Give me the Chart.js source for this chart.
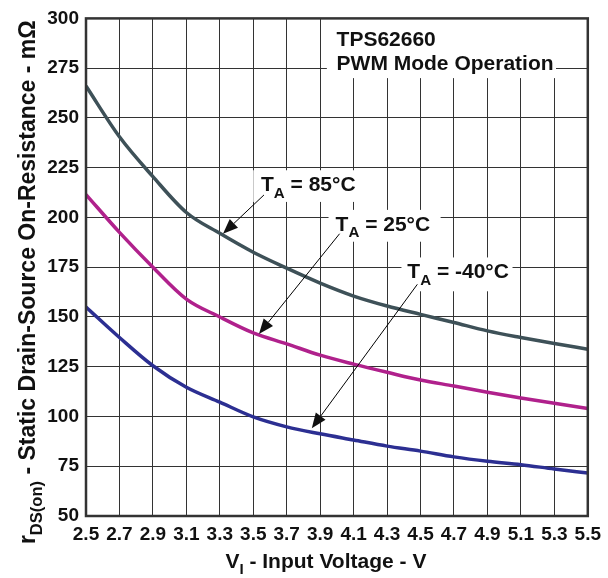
<!DOCTYPE html>
<html><head><meta charset="utf-8">
<script src="https://cdn.jsdelivr.net/npm/chart.js@4/dist/chart.umd.min.js"></script>
<style>html,body{margin:0;padding:0;background:#fff}#wrap{width:608px;height:578px}</style>
</head><body><div id="wrap"><canvas id="c" width="608" height="578"></canvas></div>
<script>
// ---- data ----
const voltages = [2.5, 2.7, 2.9, 3.1, 3.3, 3.5, 3.7, 3.9, 4.1, 4.3, 4.5, 4.7, 4.9, 5.1, 5.3, 5.5];
const xTicks = [2.5, 2.7, 2.9, 3.1, 3.3, 3.5, 3.7, 3.9, 4.1, 4.3, 4.5, 4.7, 4.9, 5.1, 5.3, 5.5];
const yTicks = [50, 75, 100, 125, 150, 175, 200, 225, 250, 275, 300];
const r85 = [266, 240.5, 220.5, 202.5, 192, 182.5, 174.5, 167, 160.5, 155.5, 151.3, 147.2, 143, 139.7, 136.7, 133.8];
const r25 = [211.5, 192.5, 175, 159, 150, 142, 136.5, 130.8, 126.3, 122.2, 118.3, 115.3, 112.2, 109.3, 106.6, 104];
const rM40 = [155, 139.7, 125.5, 114.7, 107.2, 99.8, 94.8, 91.3, 88.2, 85.1, 82.6, 79.7, 77.5, 75.8, 73.6, 71.6];
const seriesTemps = ['85°C', '25°C', '-40°C'];
const noteLines = ['TPS62660', 'PWM Mode Operation'];

// ---- styling / annotation placement (data units) ----
const FONT = '"Liberation Sans", Arial, Helvetica, sans-serif';
const colors = ['#3e5158', '#b0218c', '#2c2f92'];
const labelCfg = [
  {text: [['T',0],['A',1],[' = ' + seriesTemps[0],0]], at:[3.546, 213.1], box:[3.50, 4.16, 223.7, 207.8], arrow:[[3.564, 211.3],[3.319, 191.8]]},
  {text: [['T',0],['A',1],[' = ' + seriesTemps[1],0]], at:[3.992, 193.3], box:[3.95, 4.62, 203.8, 187.8], arrow:[[4.016, 191.8],[3.534, 141.5]]},
  {text: [['T',0],['A',1],[' = ' + seriesTemps[2],0]], at:[4.421, 169.4], box:[4.386, 5.05, 179.9, 162.9], arrow:[[4.481, 166.4],[3.85, 94.1]]}
];
const noteCfg = {at:[3.998, 286, 274.1], box:[3.94, 5.31, 300, 270]};

function richDraw(ctx, parts, x, y, size, align) {
  let w = 0;
  parts.forEach(([t, sub]) => { ctx.font = `bold ${sub ? size*0.72 : size}px ${FONT}`; w += ctx.measureText(t).width; });
  let cx = align === 'center' ? x - w/2 : x;
  ctx.textAlign = 'left'; ctx.textBaseline = 'alphabetic';
  parts.forEach(([t, sub]) => {
    ctx.font = `bold ${sub ? size*0.72 : size}px ${FONT}`;
    ctx.fillText(t, cx, y + (sub ? size*0.3 : 0));
    cx += ctx.measureText(t).width;
  });
}

function arrow(ctx, x1, y1, x2, y2) {
  const ang = Math.atan2(y2 - y1, x2 - x1), L = 15, H = 6;
  const bx = x2 - L*Math.cos(ang), by = y2 - L*Math.sin(ang);
  ctx.strokeStyle = '#000'; ctx.lineWidth = 1;
  ctx.beginPath(); ctx.moveTo(x1, y1); ctx.lineTo(bx, by); ctx.stroke();
  ctx.fillStyle = '#111';
  ctx.beginPath();
  ctx.moveTo(x2, y2);
  ctx.lineTo(bx + H*Math.sin(ang), by - H*Math.cos(ang));
  ctx.lineTo(bx - H*Math.sin(ang), by + H*Math.cos(ang));
  ctx.closePath(); ctx.fill();
}

const decor = {
  id: 'decor',
  beforeDatasetsDraw(chart) {
    const {ctx, scales: {x, y}} = chart;
    ctx.save(); ctx.fillStyle = '#fff';
    const boxes = labelCfg.map(l => l.box).concat([noteCfg.box]);
    boxes.forEach(b => {
      const x0 = x.getPixelForValue(b[0]), x1 = x.getPixelForValue(b[1]);
      const y0 = y.getPixelForValue(b[2]), y1 = y.getPixelForValue(b[3]);
      ctx.fillRect(x0, y0, x1 - x0, y1 - y0);
    });
    ctx.restore();
  },
  afterDatasetsDraw(chart) {
    const {ctx, chartArea: a, scales: {x, y}} = chart;
    ctx.save();
    ctx.fillStyle = '#111';
    labelCfg.forEach(l => {
      richDraw(ctx, l.text, x.getPixelForValue(l.at[0]), y.getPixelForValue(l.at[1]), 21, 'left');
      arrow(ctx, x.getPixelForValue(l.arrow[0][0]), y.getPixelForValue(l.arrow[0][1]),
                 x.getPixelForValue(l.arrow[1][0]), y.getPixelForValue(l.arrow[1][1]));
    });
    ctx.fillStyle = '#111';
    ctx.font = `bold 21px ${FONT}`; ctx.textAlign = 'left'; ctx.textBaseline = 'alphabetic';
    ctx.fillText(noteLines[0], x.getPixelForValue(noteCfg.at[0]), y.getPixelForValue(noteCfg.at[1]));
    ctx.fillText(noteLines[1], x.getPixelForValue(noteCfg.at[0]), y.getPixelForValue(noteCfg.at[2]));
    // frame
    ctx.strokeStyle = '#333'; ctx.lineWidth = 2.5;
    ctx.strokeRect(a.left, a.top, a.right - a.left, a.bottom - a.top);
    // axis titles
    ctx.fillStyle = '#111';
    richDraw(ctx, [['V',0],['I',1],[' - Input Voltage - V',0]], (a.left + a.right)/2 - 11, 568, 21, 'center');
    ctx.translate(35, (a.top + a.bottom)/2 + 15);
    ctx.rotate(-Math.PI/2);
    richDraw(ctx, [['r',0],['DS(on)',1],[' - Static Drain-Source On-Resistance - m\u03A9',0]], 0, 0, 23, 'center');
    ctx.restore();
  }
};

const mk = (arr) => voltages.map((v, i) => ({x: v, y: arr[i]}));
new Chart(document.getElementById('c'), {
  type: 'line',
  data: {
    datasets: [r85, r25, rM40].map((arr, i) => ({
      label: 'TA = ' + seriesTemps[i],
      data: mk(arr),
      borderColor: colors[i], borderWidth: 3.5, pointRadius: 0, fill: false,
      cubicInterpolationMode: 'monotone'
    }))
  },
  options: {
    responsive: false, animation: false, devicePixelRatio: 1,
    layout: {padding: {top: 15, right: 18, left: 0, bottom: 0}},
    plugins: {legend: {display: false}, title: {display: false}, tooltip: {enabled: false}},
    scales: {
      x: {
        type: 'linear', min: 2.5, max: 5.5,
        afterBuildTicks: s => { s.ticks = xTicks.map(v => ({value: v})); },
        afterFit: s => { s.height = 62; },
        grid: {color: '#333', lineWidth: 1, drawTicks: false},
        border: {display: false},
        ticks: {callback: v => v.toFixed(1), color: '#111', padding: 7, maxRotation: 0, autoSkip: false,
                font: {family: FONT, weight: 'bold', size: 19}}
      },
      y: {
        type: 'linear', min: 50, max: 300,
        afterBuildTicks: s => { s.ticks = yTicks.map(v => ({value: v})); },
        afterFit: s => { s.width = 86; },
        grid: {color: '#333', lineWidth: 1, drawTicks: false},
        border: {display: false},
        ticks: {color: '#111', padding: 7, font: {family: FONT, weight: 'bold', size: 19}}
      }
    }
  },
  plugins: [decor]
});
</script></body></html>
